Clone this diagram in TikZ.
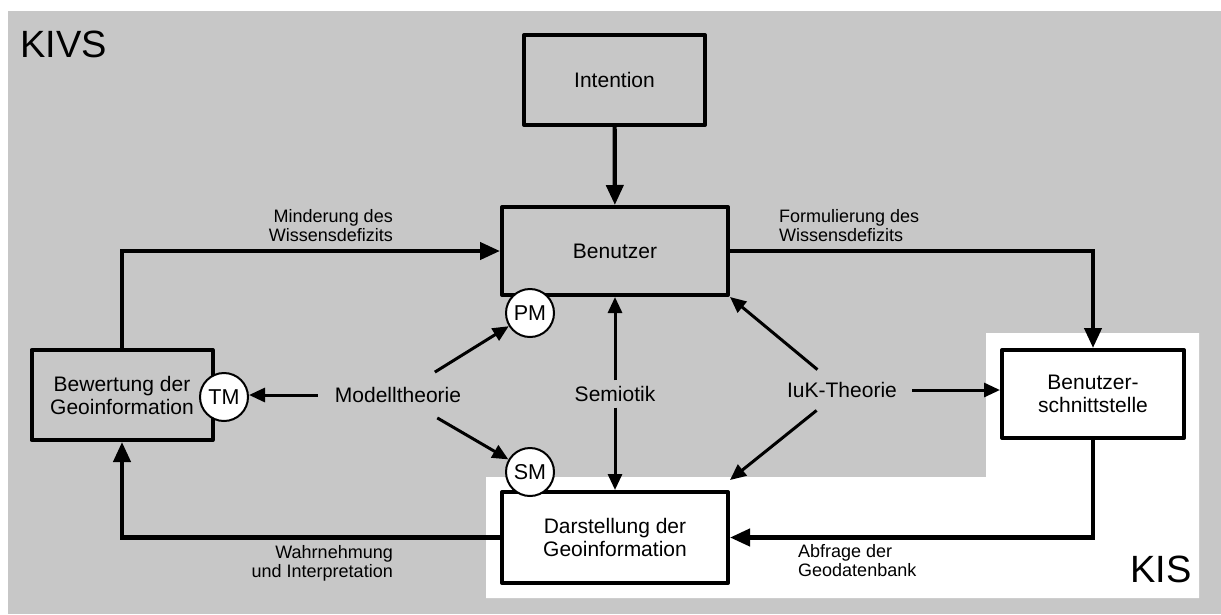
\documentclass[tikz,border=0pt]{standalone}
\usepackage{fontspec}
\setmainfont{Liberation Sans}
\usetikzlibrary{arrows.meta}
\definecolor{kivsgray}{RGB}{199,199,199}
\begin{document}
\begin{tikzpicture}[x=1pt,y=-1pt,
  box/.style={draw, line width=4pt, rectangle, inner sep=0pt, align=center,
    font=\fontsize{21}{23}\selectfont, line join=round},
  mk/.style={draw, circle, line width=2pt, fill=white, minimum size=48pt,
    inner sep=0pt, font=\fontsize{21.5}{23}\selectfont},
  theory/.style={font=\fontsize{21}{23}\selectfont},
  flow/.style={line width=4.2pt, -{Triangle[length=20pt,width=17pt]}},
  tharrow/.style={line width=3pt, -{Triangle[length=16pt,width=14pt]}},
  lbl/.style={inner sep=0pt, font=\fontsize{18}{19}\selectfont},
  region/.style={inner sep=0pt, font=\fontsize{38}{40}\selectfont}
]
\useasboundingbox (0,0) rectangle (1221,614);
\fill[kivsgray] (8,11) rectangle (1221,614);
\fill[white] (486,477) -- (986,477) -- (986,333) -- (1199,333) -- (1199,598) -- (486,598) -- cycle;

% boxes
\node[box, minimum width=181pt, minimum height=90pt] (int) at (614.5,80) {Intention};
\node[box, minimum width=226pt, minimum height=88pt] (ben) at (615,251) {Benutzer};
\node[box, minimum width=181pt, minimum height=90pt] (bew) at (122,395) {Bewertung der\\Geoinformation};
\node[box, fill=white, minimum width=182pt, minimum height=88pt] (bsn) at (1093,394) {Benutzer-\\schnittstelle};
\node[box, fill=white, minimum width=226pt, minimum height=91pt] (dar) at (615,537.5) {Darstellung der\\Geoinformation};

% theories
\node[theory, inner xsep=17pt, inner ysep=15pt] (mt) at (398,395) {Modelltheorie};
\node[theory, inner sep=0pt, minimum height=27pt] (sem) at (615,394) {Semiotik};
\node[theory, inner xsep=15pt, inner ysep=12.5pt] (iuk) at (842,390) {IuK-Theorie};

% flow connectors
\draw[flow] (int) -- (ben);
\draw[flow] (bew.north) |- (ben.west);
\draw[flow] (ben.east) -| (bsn.north);
\draw[flow] (bsn.south) |- (dar.east);
\draw[flow] (dar.west) -| (bew.south);

% circles
\node[mk] (tm) at (224,397) {TM};
\node[mk] (pm) at (530,313) {PM};
\node[mk] (sm) at (530,472) {SM};

% theory connectors
\draw[tharrow] (mt) -- (mt -| tm.east);
\draw[tharrow] (mt) -- (pm);
\draw[tharrow] (mt) -- (sm);
\draw[tharrow] (sem) -- (ben);
\draw[tharrow] (sem) -- (dar);
\draw[tharrow] (iuk) -- (ben.south east);
\draw[tharrow] (iuk) -- ([yshift=10pt]dar.north east);
\draw[tharrow] (iuk) -- (iuk -| bsn.west);

% labels
\node[lbl, align=right, anchor=south east] (l1) at (393,242) {Minderung des\\Wissensdefizits};
\node[lbl, align=left, anchor=south west] (l2) at (779,242) {Formulierung des\\Wissensdefizits};
\node[lbl, align=right, anchor=south east] (l3) at (393,581) {Wahrnehmung\\und Interpretation};
\node[lbl, align=left, anchor=south west] (l4) at (798,577) {Abfrage der\\Geodatenbank};

% region names
\node[region, anchor=base west] (kivs) at (20,57) {KIVS};
\node[region, anchor=base east] (kis) at (1192,582) {KIS};
\end{tikzpicture}
\end{document}
